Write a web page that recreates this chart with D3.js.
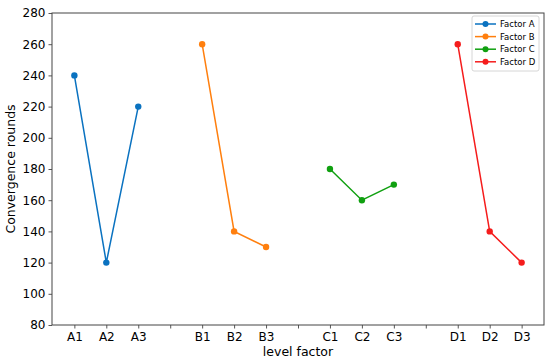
<!DOCTYPE html>
<html>
<head>
<meta charset="utf-8" />
<title>level factor chart</title>
<script src="https://cdn.jsdelivr.net/npm/d3@7"></script>
<style>
    body { margin: 0; background: #fff; }
    text { font-family: "DejaVu Sans", sans-serif; fill: #000; }
</style>
</head>
<body>
<svg id="chart" width="550" height="363"></svg>
<script>
    // x positions: 15 slots, blanks between the factor groups
    var tickLabels = ['A1','A2','A3','','B1','B2','B3','','C1','C2','C3','','D1','D2','D3'];
    var seriesNames = ['Factor A','Factor B','Factor C','Factor D'];
    var seriesIdx = [[0,1,2],[4,5,6],[8,9,10],[12,13,14]];
    var valuesA = [240,120,220];
    var valuesB = [260,140,130];
    var valuesC = [180,160,170];
    var valuesD = [260,140,120];
    var yTicks = [80,100,120,140,160,180,200,220,240,260,280];
    var colors = ['#0a72c0','#ff7f0e','#10a010','#f51c1c'];

    var allValues = [valuesA, valuesB, valuesC, valuesD];

    var margin = {left: 52, right: 6, top: 13, bottom: 38};
    var width = 550, height = 363;
    var svg = d3.select('#chart');

    var x = d3.scaleLinear().domain([-0.7, 14.7]).range([margin.left, width - margin.right]);
    var y = d3.scaleLinear().domain([80, 280]).range([height - margin.bottom, margin.top]);

    var xAxis = d3.axisBottom(x)
        .tickValues(d3.range(tickLabels.length))
        .tickFormat(function(d){ return tickLabels[d]; })
        .tickSize(3.5).tickSizeOuter(0).tickPadding(4);
    var yAxis = d3.axisLeft(y)
        .tickValues(yTicks)
        .tickSize(3.5).tickSizeOuter(0).tickPadding(3);

    var gx = svg.append('g')
        .attr('transform', 'translate(0,' + (height - margin.bottom) + ')')
        .call(xAxis);
    var gy = svg.append('g')
        .attr('transform', 'translate(' + margin.left + ',0)')
        .call(yAxis);

    [gx, gy].forEach(function(g){
        g.selectAll('.domain').remove();
        g.selectAll('line').attr('stroke', '#444').attr('stroke-width', 0.9);
        g.selectAll('text').style('font-size', '12px').attr('fill', '#000');
    });

    // frame
    svg.append('rect')
        .attr('x', margin.left).attr('y', margin.top)
        .attr('width', width - margin.left - margin.right)
        .attr('height', height - margin.top - margin.bottom)
        .attr('fill', 'none').attr('stroke', '#444').attr('stroke-width', 1);

    var line = d3.line()
        .x(function(d){ return x(d[0]); })
        .y(function(d){ return y(d[1]); });

    allValues.forEach(function(vals, s){
        var pts = vals.map(function(v, i){ return [seriesIdx[s][i], v]; });
        svg.append('path')
            .datum(pts)
            .attr('d', line)
            .attr('fill', 'none')
            .attr('stroke', colors[s])
            .attr('stroke-width', 1.5);
        svg.selectAll('.pt' + s)
            .data(pts)
            .enter().append('circle')
            .attr('cx', function(d){ return x(d[0]); })
            .attr('cy', function(d){ return y(d[1]); })
            .attr('r', 3.2)
            .attr('fill', colors[s]);
    });

    // axis labels
    svg.append('text')
        .attr('x', (margin.left + width - margin.right) / 2)
        .attr('y', 356)
        .attr('text-anchor', 'middle')
        .style('font-size', '12.5px')
        .text('level factor');

    svg.append('text')
        .attr('transform', 'translate(15,' + ((margin.top + height - margin.bottom) / 2) + ') rotate(-90)')
        .attr('text-anchor', 'middle')
        .style('font-size', '12.5px')
        .text('Convergence rounds');

    // legend
    var lg = svg.append('g');
    lg.append('rect')
        .attr('x', 472).attr('y', 16)
        .attr('width', 67).attr('height', 55)
        .attr('rx', 2)
        .attr('fill', '#fff').attr('stroke', '#ccc').attr('stroke-width', 0.8);
    seriesNames.forEach(function(name, i){
        var yy = 24 + i * 12.6;
        lg.append('line')
            .attr('x1', 475).attr('x2', 496)
            .attr('y1', yy).attr('y2', yy)
            .attr('stroke', colors[i]).attr('stroke-width', 1.5);
        lg.append('circle')
            .attr('cx', 485.5).attr('cy', yy).attr('r', 3)
            .attr('fill', colors[i]);
        lg.append('text')
            .attr('x', 500).attr('y', yy + 3)
            .style('font-size', '8.5px')
            .text(name);
    });
</script>
</body>
</html>
